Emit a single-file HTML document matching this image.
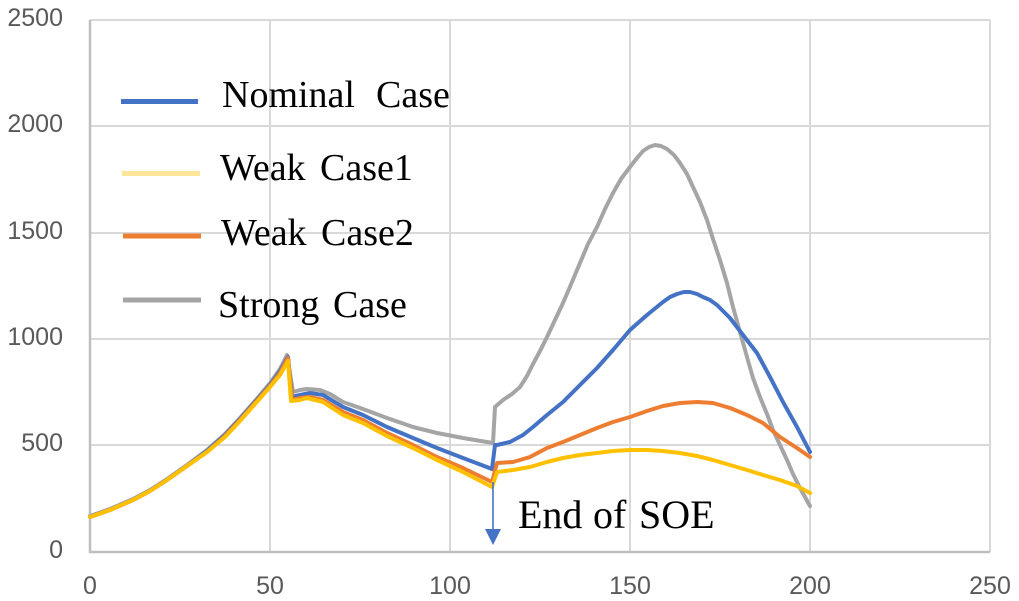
<!DOCTYPE html>
<html>
<head>
<meta charset="utf-8">
<style>
html,body{margin:0;padding:0;background:#fff;}
svg{display:block;}
.tick{font-family:"Liberation Sans",sans-serif;font-size:25px;fill:#595959;}
.leg{font-family:"Liberation Serif",serif;font-size:38px;fill:#000;}
</style>
</head>
<body>
<svg width="1019" height="601" viewBox="0 0 1019 601" xmlns="http://www.w3.org/2000/svg">
<rect width="1019" height="601" fill="#fff"/>
<!-- gridlines -->
<g stroke="#d9d9d9" stroke-width="2" fill="none">
<line x1="90" y1="20" x2="990" y2="20"/>
<line x1="90" y1="126" x2="990" y2="126"/>
<line x1="90" y1="233" x2="990" y2="233"/>
<line x1="90" y1="339" x2="990" y2="339"/>
<line x1="90" y1="445" x2="990" y2="445"/>
<line x1="270" y1="20" x2="270" y2="552"/>
<line x1="450" y1="20" x2="450" y2="552"/>
<line x1="630" y1="20" x2="630" y2="552"/>
<line x1="810" y1="20" x2="810" y2="552"/>
<line x1="990" y1="20" x2="990" y2="552"/>
</g>
<!-- axes -->
<g stroke="#bfbfbf" stroke-width="2.5" fill="none">
<line x1="90" y1="20" x2="90" y2="553"/>
<line x1="89" y1="552" x2="990" y2="552"/>
</g>
<!-- y tick labels -->
<g class="tick" text-anchor="end">
<text x="63" y="26">2500</text>
<text x="63" y="132">2000</text>
<text x="63" y="239">1500</text>
<text x="63" y="345">1000</text>
<text x="63" y="451">500</text>
<text x="63" y="558">0</text>
</g>
<!-- x tick labels -->
<g class="tick" text-anchor="middle">
<text x="90" y="594">0</text>
<text x="270" y="594">50</text>
<text x="450" y="594">100</text>
<text x="630" y="594">150</text>
<text x="810" y="594">200</text>
<text x="990" y="594">250</text>
</g>
<!-- series -->
<g fill="none" stroke-width="4" stroke-linejoin="round" stroke-linecap="round">
<polyline stroke="#a5a5a5" points="90,516 110,509 133,499 150,490 167,479 187,465 207,450 225,434 240,418 255,401 270,383 280,369 287,355 293,392 300,390 307,389 320,390 330,394 343,402 363,409 387,418 413,427 437,433 463,438 493,443 495,407 503,400 512,394 520,387 527,376 533,364 540,351 547,337 555,320 563,303 572,282 580,263 588,244 597,227 605,209 613,193 621,179 630,167 637,158 643,151 649,147 655,145 661,146 667,149 674,155 680,163 687,174 693,187 700,202 707,220 713,239 720,260 727,283 733,307 740,332 747,357 753,378 760,397 767,414 773,430 780,445 787,460 793,474 800,488 810,506"/>
<polyline stroke="#4472c4" points="90,517 110,510 133,500 150,491 167,480 187,466 207,451 225,435 240,419 255,402 270,385 280,371 288,357 292,397 300,395 310,393 323,395 343,407 363,415 387,427 413,438 437,448 463,458 492,469 495,445 497,445 510,442 523,435 533,427 547,415 563,402 580,385 597,368 613,350 630,330 647,315 663,302 670,297 677,294 684,292 690,292 697,294 703,297 710,300 717,305 730,318 743,335 757,353 770,377 783,402 797,427 810,452"/>
<polyline stroke="#ed7d31" points="90,517 110,510 133,500 150,491 167,480 187,466 207,452 225,436 240,420 255,403 270,386 280,373 288,358 292,400 300,398 310,397 323,400 343,412 363,420 387,433 413,445 437,457 463,468 492,482 497,463 513,462 530,457 547,448 563,442 580,435 597,428 613,422 630,417 647,411 663,406 680,403 697,402 713,403 730,408 747,415 763,423 780,437 797,448 810,457"/>
<polyline stroke="#ffc000" points="90,517 110,510 133,500 150,491 167,480 187,466 207,452 225,437 240,421 255,404 270,387 280,375 288,361 291,401 300,400 307,398 323,402 343,415 363,423 387,436 413,448 437,460 463,472 492,487 497,472 513,470 530,467 547,462 563,458 580,455 597,453 613,451 630,450 647,450 663,451 680,453 697,456 713,460 730,465 747,470 763,475 780,480 797,486 810,493"/>
</g>
<!-- arrow -->
<line x1="493" y1="482" x2="493" y2="531" stroke="#4472c4" stroke-width="1.6"/>
<polygon points="485,529 501,529 493,545" fill="#4472c4"/>
<text y="528" font-family="Liberation Serif, serif" font-size="40" fill="#000"><tspan x="518">End</tspan><tspan x="593">of</tspan><tspan x="639">SOE</tspan></text>
<!-- legend -->
<g stroke-width="5">
<line x1="121" y1="101.5" x2="198" y2="101.5" stroke="#4472c4"/>
<line x1="122" y1="173.5" x2="200" y2="173.5" stroke="#ffe699"/>
<line x1="123" y1="236" x2="201" y2="236" stroke="#ed7d31"/>
<line x1="123" y1="300" x2="201" y2="300" stroke="#a5a5a5"/>
</g>
<text class="leg" y="107"><tspan x="222">Nominal</tspan><tspan x="376">Case</tspan></text>
<text class="leg" y="180"><tspan x="220">Weak</tspan><tspan x="320">Case1</tspan></text>
<text class="leg" y="245"><tspan x="221">Weak</tspan><tspan x="321">Case2</tspan></text>
<text class="leg" y="317"><tspan x="218">Strong</tspan><tspan x="333">Case</tspan></text>
</svg>
</body>
</html>
